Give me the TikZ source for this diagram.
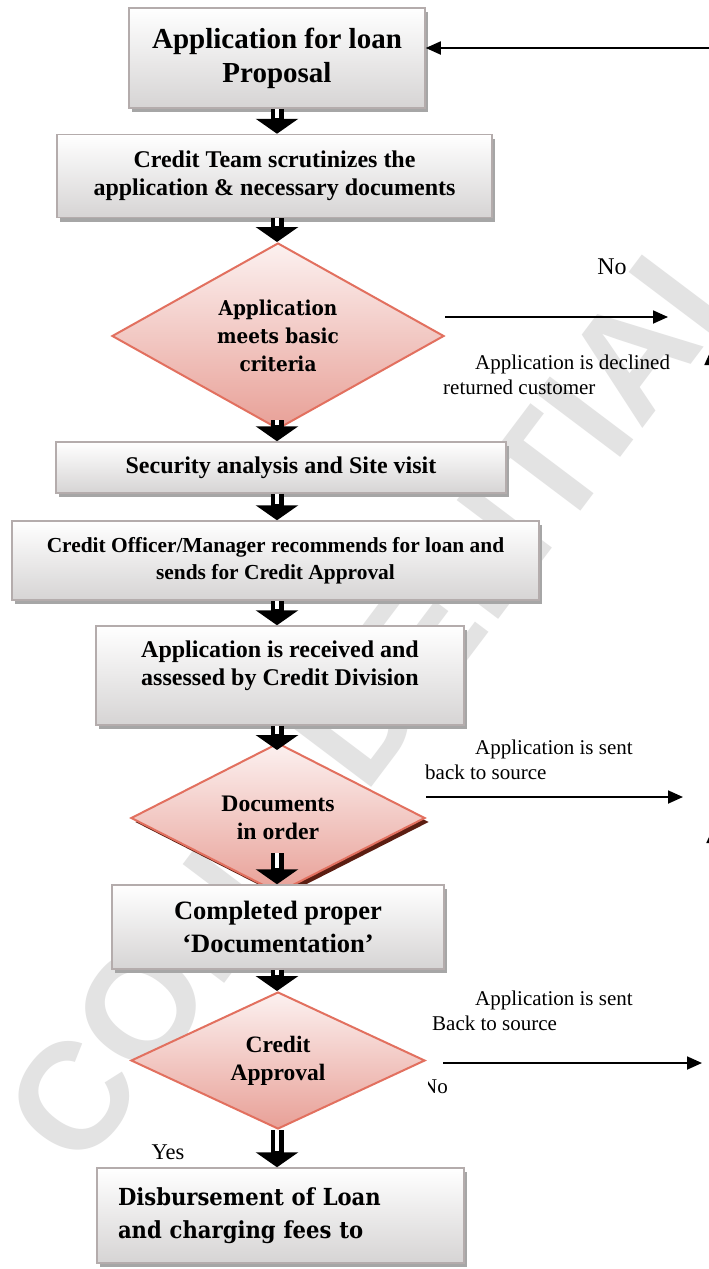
\documentclass[tikz,border=0pt]{standalone}
\usepackage{fontspec}
\setmainfont{Liberation Serif}
\newfontfamily\antiqua[FakeStretch=0.9]{DejaVu Serif}
\newfontfamily\markfont{Liberation Sans}
\usetikzlibrary{shapes.geometric,shadows,arrows.meta}

\definecolor{boxedge}{HTML}{B4ACAC}
\definecolor{boxbot}{HTML}{D6D4D4}
\definecolor{decedge}{HTML}{E2705F}
\definecolor{dectop}{HTML}{FCF1F0}
\definecolor{decbot}{HTML}{E8A097}
\definecolor{decshade}{HTML}{5C1E12}

\tikzset{
  graybox/.style={draw=boxedge, line width=1.5pt, top color=white, bottom color=boxbot,
    inner sep=0pt, align=center,
    drop shadow={shadow xshift=3pt, shadow yshift=-4pt, fill=black!35, opacity=1}},
  decision/.style={diamond, draw=decedge, line width=2pt, top color=dectop, bottom color=decbot,
    inner sep=0pt, aspect=1.8, align=center},
  blockarr/.style={line width=13pt, -{Triangle[length=15pt,width=42pt]},
    postaction={draw=white, line width=4pt, -, shorten >=16pt}},
  thinarr/.style={line width=1.8pt, -{Triangle[length=15pt,width=13pt]}},
  note/.style={font=\fontsize{21}{25}\selectfont, align=left, inner sep=0pt},
}

\begin{document}
\begin{tikzpicture}[x=1pt,y=-1pt]
\useasboundingbox (0,0) rectangle (709,1269);
\fill[white] (0,0) rectangle (709,1269);
\clip (0,0) rectangle (709,1269);

% watermark
\node[rotate=53, text=black!11, font=\markfont\bfseries\fontsize{152}{152}\selectfont] (mark) at (380,690) {CONFIDENTIAL};

% steps
\node[graybox, minimum width=296pt, minimum height=100pt, font=\fontsize{29}{34}\selectfont\bfseries] (prop) at (277,58) {Application for loan\\Proposal};
\node[graybox, minimum width=435pt, minimum height=83pt, font=\fontsize{24}{28}\selectfont\bfseries] (scrut) at (274.5,176) {Credit Team scrutinizes the\\application \& necessary documents};
\node[decision, minimum width=332pt, minimum height=186pt, font=\antiqua\bfseries\fontsize{20.5}{28}\selectfont] (crit) at (278,336) {Application\\meets basic\\criteria};
\node[graybox, minimum width=450pt, minimum height=51pt, font=\fontsize{24}{28}\selectfont\bfseries] (site) at (281,467.5) {Security analysis and Site visit};
\node[graybox, minimum width=527pt, minimum height=79pt, font=\fontsize{21.4}{27}\selectfont\bfseries] (recom) at (275.5,560.5) {Credit Officer/Manager recommends for loan and\\sends for Credit Approval};
\node[graybox, minimum width=368pt, minimum height=99pt,
  label={[font=\fontsize{24}{28}\selectfont\bfseries, align=center, yshift=10pt]center:Application is received and\\assessed by Credit Division}] (assess) at (280,675.5) {};
\node[decision, minimum width=294pt, minimum height=150pt, font=\fontsize{23.7}{28}\selectfont\bfseries,
  drop shadow={shadow xshift=4pt, shadow yshift=-4pt, fill=decshade, opacity=1}] (docs) at (278,818) {Documents\\in order};
\node[graybox, minimum width=332pt, minimum height=84pt, font=\fontsize{26.5}{33}\selectfont\bfseries] (docu) at (278,927) {Completed proper\\‘Documentation’};
\node[decision, minimum width=294pt, minimum height=137pt, font=\fontsize{23.5}{28}\selectfont\bfseries] (appr) at (278,1060.5) {Credit\\Approval};
\node[graybox, minimum width=367pt, minimum height=95pt, align=left, text width=325pt, inner xsep=21pt,
  font=\antiqua\bfseries\fontsize{23.5}{33}\selectfont] (disb) at (280.5,1215.5) {Disbursement of Loan\\and charging fees to};

% block arrows down the middle
\coordinate (axis) at (277,0);
\coordinate (critfoot) at ([yshift=10pt]crit.south);
\coordinate (docstop) at ([yshift=-8pt]docs.north);
\coordinate (docsin) at ([yshift=-35pt]docs.center);
\draw[blockarr] (axis |- prop.south) -- (axis |- scrut.north);
\draw[blockarr] (axis |- scrut.south) -- (axis |- crit.north);
\draw[blockarr] (axis |- critfoot) -- (axis |- site.north);
\draw[blockarr] (axis |- site.south) -- (axis |- recom.north);
\draw[blockarr] (axis |- recom.south) -- (axis |- assess.north);
\draw[blockarr] (axis |- assess.south) -- (axis |- docstop);
\draw[blockarr] (axis |- docsin) -- (axis |- docu.north);
\draw[blockarr] (axis |- docu.south) -- (axis |- appr.north);
\draw[blockarr] (axis |- appr.south) -- (axis |- disb.north);

% side arrows
\coordinate (loopin) at (712,48);
\coordinate (declined) at (668,317);
\coordinate (backA) at (683,797);
\coordinate (backB) at (702,1063);
\coordinate (approut) at ([xshift=17pt]appr.east);
\coordinate (upA) at (711,350);
\coordinate (upB) at (713,828);
\draw[thinarr] (loopin) -- (loopin -| prop.east);
\draw[thinarr] (declined -| crit.east) -- (declined);
\draw[thinarr] (backA -| docs.east) -- (backA);
\draw[thinarr] (backB -| approut) -- (backB);
\draw[thinarr] ([yshift=-90pt]upA) -- (upA);
\draw[thinarr] ([yshift=-90pt]upB) -- (upB);

% labels
\node[font=\fontsize{24}{28}\selectfont] (nolbl) at (612,267) {No};
\node[note, anchor=west] (declbl) at (443,375) {\hspace*{32pt}Application is declined\\returned customer};
\node[note, anchor=west] (sentA) at (425,760) {\hspace*{50pt}Application is sent\\back to source};
\node[note, anchor=west] (sentB) at (432,1011) {\hspace*{43pt}Application is sent\\Back to source};
\begin{scope}
\clip (428,1070) rectangle (470,1105);
\node[font=\fontsize{21}{25}\selectfont] (nolbl2) at (435,1087) {No};
\end{scope}
\node[font=\fontsize{22.5}{26}\selectfont] (yeslbl) at (168,1152) {Yes};
\end{tikzpicture}
\end{document}
